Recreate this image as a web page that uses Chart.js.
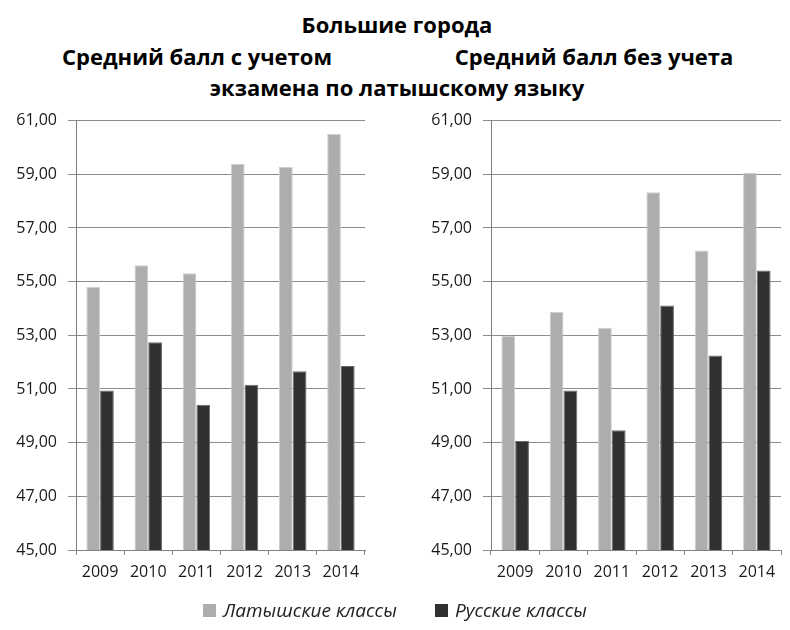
<!DOCTYPE html>
<html>
<head>
<meta charset="utf-8">
<script src="https://cdn.jsdelivr.net/npm/chart.js@4.4.1/dist/chart.umd.min.js"></script>
<style>
    body { margin: 0; background: #fff; font-family: "Open Sans", sans-serif; }
    #wrap { position: relative; width: 790px; height: 630px; }
    .title { position: absolute; font-weight: bold; font-size: 22px; line-height: 30px; color: #000; white-space: nowrap; transform: translateX(-50%); }
    .box { position: absolute; top: 100px; width: 395px; height: 500px; }
    #legend { position: absolute; top: 597px; left: 0; width: 790px; text-align: center; font-style: italic; font-size: 19px; line-height: 26px; color: #222; }
    #legend span.item { display: inline-block; margin: 0 19px; }
    #legend span.sw { display: inline-block; width: 13px; height: 13px; margin-right: 7px; vertical-align: 0px; }
</style>
</head>
<body>
<div id="wrap">
    <div class="title" style="left:397px; top:9px;">Большие города</div>
    <div class="title" style="left:197px; top:41px;">Средний балл с учетом</div>
    <div class="title" style="left:594px; top:41px;">Средний балл без учета</div>
    <div class="title" style="left:397px; top:72px;">экзамена по латышскому языку</div>
    <div class="box" style="left:0;"><canvas id="chartLeft"></canvas></div>
    <div class="box" style="left:395px;"><canvas id="chartRight"></canvas></div>
    <div id="legend"></div>
</div>
<script>
// Data
const years = ['2009', '2010', '2011', '2012', '2013', '2014'];
const seriesNames = ['Латышские классы', 'Русские классы'];
const seriesColors = ['#adadad', '#303030'];

// With Latvian exam
const withLatvian = [54.80, 55.61, 55.31, 59.39, 59.27, 60.51];
const withRussian = [50.94, 52.74, 50.41, 51.16, 51.66, 51.86];

// Without Latvian exam
const withoutLatvian = [52.98, 53.87, 53.28, 58.33, 56.16, 59.06];
const withoutRussian = [49.06, 50.94, 49.46, 54.11, 52.25, 55.41];

const yMin = 45;
const yMax = 61;
const yStep = 2;

const borderColors = ['#cfcfcf', '#6a6a6a'];

function makeChart(canvasId, latvian, russian, axisWidth, rightPad) {
    const ctx = document.getElementById(canvasId).getContext('2d');
    return new Chart(ctx, {
        type: 'bar',
        data: {
            labels: years,
            datasets: [latvian, russian].map((values, i) => ({
                label: seriesNames[i],
                data: values,
                backgroundColor: seriesColors[i],
                borderColor: borderColors[i],
                borderWidth: { left: 1, right: 1, top: 1, bottom: 0 },
                categoryPercentage: 0.57,
                barPercentage: 1
            }))
        },
        options: {
            responsive: true,
            maintainAspectRatio: false,
            animation: false,
            layout: { padding: { left: 0, right: rightPad, top: 4.4, bottom: 0 } },
            plugins: {
                legend: { display: false },
                tooltip: { enabled: false }
            },
            scales: {
                x: {
                    grid: {
                        offset: true,
                        drawOnChartArea: false,
                        drawTicks: true,
                        tickLength: 5,
                        color: '#808080'
                    },
                    border: { color: '#808080', width: 1 },
                    ticks: {
                        color: '#1a1a1a',
                        padding: 8,
                        font: { family: 'Open Sans', size: 16 }
                    },
                    afterFit: (scale) => { scale.height = 50; }
                },
                y: {
                    min: yMin,
                    max: yMax,
                    grid: {
                        color: '#8c8c8c',
                        tickLength: 8
                    },
                    border: { color: '#808080', width: 1 },
                    ticks: {
                        stepSize: yStep,
                        color: '#1a1a1a',
                        padding: 11,
                        font: { family: 'Open Sans', size: 16 },
                        callback: (v) => v.toFixed(2).replace('.', ',')
                    },
                    afterFit: (scale) => { scale.width = axisWidth; }
                }
            }
        }
    });
}

makeChart('chartLeft', withLatvian, withRussian, 76, 30);
makeChart('chartRight', withoutLatvian, withoutRussian, 96, 9);

// Shared legend
const legend = document.getElementById('legend');
seriesNames.forEach((name, i) => {
    const item = document.createElement('span');
    item.className = 'item';
    const sw = document.createElement('span');
    sw.className = 'sw';
    sw.style.background = seriesColors[i];
    item.appendChild(sw);
    item.appendChild(document.createTextNode(name));
    legend.appendChild(item);
});
</script>
</body>
</html>
